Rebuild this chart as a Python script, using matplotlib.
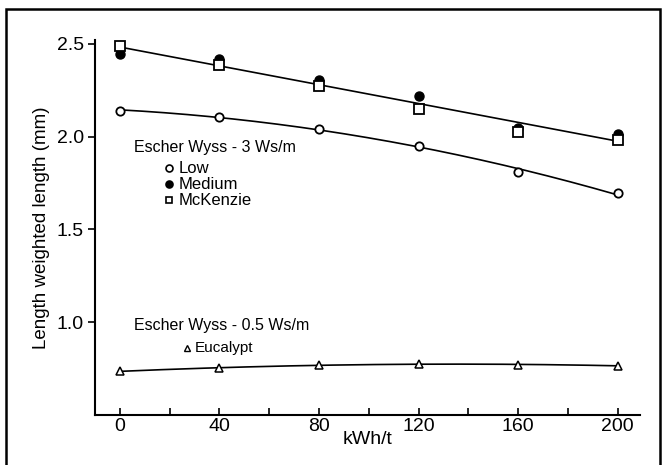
import numpy as np
import matplotlib
matplotlib.use("Agg")
from matplotlib import pyplot as plt
from matplotlib.patches import Rectangle

plt.rcParams["font.family"] = ["Liberation Sans", "DejaVu Sans"]

energy = [0, 40, 80, 120, 160, 200]
low = [2.14, 2.106, 2.038, 1.951, 1.809, 1.694]
medium = [2.446, 2.419, 2.306, 2.218, 2.045, 2.011]
mckenzie = [2.487, 2.383, 2.27, 2.149, 2.023, 1.984]
eucalypt = [0.736, 0.752, 0.770, 0.775, 0.770, 0.766]

xticks = [0, 40, 80, 120, 160, 200]
yticks = [1.0, 1.5, 2.0, 2.5]

fig = plt.figure(figsize=(6.66, 4.65), dpi=100)
ax = fig.add_axes([0.1426, 0.1075, 0.8184, 0.8065])

# frame round the whole figure
fig.patches.append(Rectangle((0.009, -0.1), 0.982, 1.08, transform=fig.transFigure,
                             fill=False, edgecolor="black", linewidth=1.8))

x = np.array(energy, dtype=float)
xs = np.linspace(0, 200, 200)

# fitted curves
hi = np.polyfit(np.concatenate([x, x]), np.array(medium + mckenzie), 1)
ax.plot(xs, np.polyval(hi, xs), color="black", lw=1.2)
lo = np.polyfit(x, low, 2)
ax.plot(xs, np.polyval(lo, xs), color="black", lw=1.2)
eu = np.polyfit(x, eucalypt, 2)
ax.plot(xs, np.polyval(eu, xs), color="black", lw=1.2)

ax.plot(energy, medium, "o", ms=6.5, mfc="black", mec="black", zorder=3)
ax.plot(energy, mckenzie, "s", ms=6.5, mfc="white", mec="black", mew=1.3, zorder=4)
ax.plot(energy, low, "o", ms=6, mfc="white", mec="black", mew=1.3, zorder=3)
ax.plot(energy, eucalypt, "^", ms=6, mfc="white", mec="black", mew=1.1, zorder=3)

ax.set_xlim(-10, 209)
ax.set_ylim(0.5, 2.52)
ax.spines["top"].set_visible(False)
ax.spines["right"].set_visible(False)
ax.spines["left"].set_linewidth(1.5)
ax.spines["bottom"].set_linewidth(1.5)

ax.set_xticks(xticks)
ax.set_xticks(range(0, 201, 20), minor=True)
ax.set_yticks(yticks)
ax.set_yticklabels(["1.0", "1.5", "2.0", "2.5"])
ax.tick_params(axis="x", direction="in", length=5, width=1.2, labelsize=14, pad=2)
ax.tick_params(axis="x", which="minor", direction="in", length=5, width=1.2)
ax.tick_params(axis="y", direction="out", length=5, width=1.2, labelsize=14, pad=3)

ax.set_xlabel("kWh/t", fontsize=14, labelpad=-3)
ax.set_ylabel("Length weighted length (mm)", fontsize=13.5, labelpad=5)

# in-plot key
tr = fig.transFigure
W, H = 666.0, 465.0
fig.text(134 / W, 1 - 147 / H, "Escher Wyss - 3 Ws/m", fontsize=11.5, va="center", transform=tr)
fig.text(134 / W, 1 - 325 / H, "Escher Wyss - 0.5 Ws/m", fontsize=11.5, va="center", transform=tr)
keys = [("o", "white", "Low", 168), ("o", "black", "Medium", 184),
        ("s", "white", "McKenzie", 200)]
for m, fc, name, yp in keys:
    fig.lines.append(plt.Line2D([169 / W], [1 - yp / H], marker=m, ms=5, mfc=fc, mec="black",
                                mew=1.2, transform=tr, figure=fig))
    fig.text(179 / W, 1 - yp / H, name, fontsize=12, va="center", transform=tr)
fig.lines.append(plt.Line2D([187 / W], [1 - 348 / H], marker="^", ms=4.5, mfc="white",
                            mec="black", mew=1.0, transform=tr, figure=fig))
fig.text(195 / W, 1 - 348 / H, "Eucalypt", fontsize=11, va="center", transform=tr)

fig.savefig("out.png", dpi=100)
